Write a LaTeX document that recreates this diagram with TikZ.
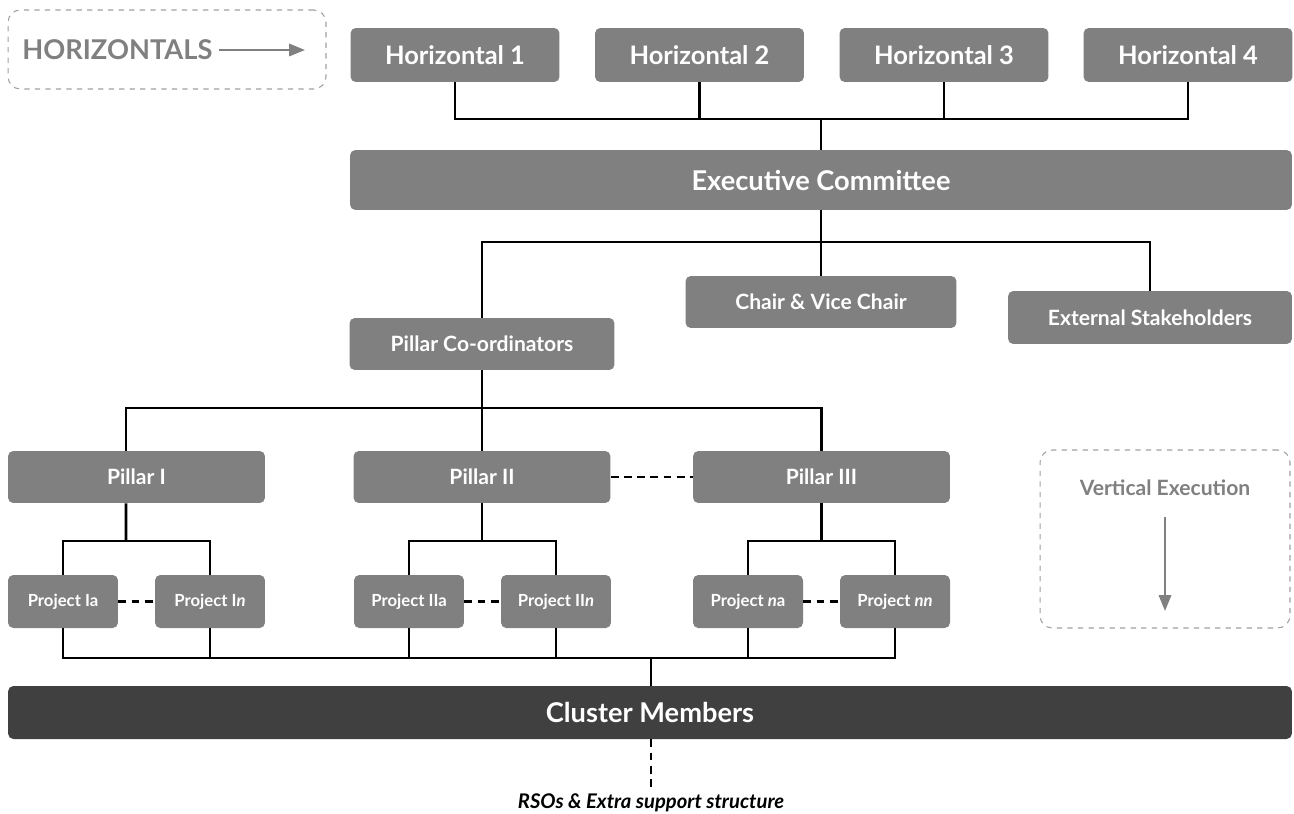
\documentclass[tikz,border=0pt]{standalone}
\usepackage{fontspec}
\setmainfont{Lato}
\usepackage{xcolor}
\usetikzlibrary{arrows.meta, positioning}
\definecolor{boxgray}{HTML}{808080}
\definecolor{darkbox}{HTML}{404040}
\definecolor{hintgray}{HTML}{A0A0A0}

\begin{document}
\begin{tikzpicture}[
  x=0.02cm, y=-0.02cm,
  every node/.style={align=center},
  box/.style={fill=boxgray, rounded corners=3pt, text=white, inner sep=0pt},
  hbox/.style={box, minimum width=4.18cm, minimum height=1.08cm, font=\bfseries\fontsize{14.5}{17}\selectfont},
  mbox/.style={box, minimum height=1.04cm, font=\bfseries\fontsize{12}{14}\selectfont},
  pbox/.style={box, minimum width=2.2cm, minimum height=1.06cm, font=\bfseries\fontsize{9.5}{11}\selectfont},
  hintbox/.style={draw=hintgray, dashed, rounded corners=7pt, line width=0.6pt},
  hint/.style={text=boxgray},
  link/.style={line width=1.45pt, black},
  dlink/.style={link, dash pattern=on 4.5pt off 3pt},
  harrow/.style={line width=1.3pt, boxgray, -{Triangle[length=9pt, width=7pt]}},
  >={Stealth}
]
\useasboundingbox (0,0) rectangle (1294,814);
% Nodes
\node[hintbox, minimum width=6.36cm, minimum height=1.58cm] (hzbox) at (167,49.5) {};
\node[hint, anchor=west, font=\bfseries\fontsize{15.5}{18}\selectfont, inner sep=0pt] (hztext) at (22,50) {HORIZONTALS};
\coordinate (hzend) at (305,50);
\node[hbox] (h1) at (455,55) {Horizontal 1};
\node[hbox] (h2) at (699.5,55) {Horizontal 2};
\node[hbox] (h3) at (944,55) {Horizontal 3};
\node[hbox] (h4) at (1188,55) {Horizontal 4};
\node[box, minimum width=18.84cm, minimum height=1.2cm, font=\bfseries\fontsize{15.5}{18}\selectfont] (exec) at (821,180) {Executive Committee};
\node[mbox, minimum width=5.42cm] (chair) at (821,302) {Chair \& Vice Chair};
\node[mbox, minimum width=5.68cm, minimum height=1.06cm] (ext) at (1150,317.5) {External Stakeholders};
\node[mbox, minimum width=5.3cm] (coord) at (482,344) {Pillar Co-ordinators};
\node[mbox, minimum width=5.14cm] (p1) at (136.5,477) {Pillar I};
\node[mbox, minimum width=5.14cm] (p2) at (482,477) {Pillar II};
\node[mbox, minimum width=5.14cm] (p3) at (821.5,477) {Pillar III};
\node[hintbox, minimum width=5cm, minimum height=3.56cm] (vebox) at (1165,539) {};
\node[hint, font=\bfseries\fontsize{12}{14}\selectfont] (vetext) at (1165,488) {Vertical Execution};
\coordinate (vestart) at (1165,517);
\coordinate (veend) at (1165,611);
\node[pbox] (pr1a) at (63,601.5) {Project Ia};
\node[pbox] (pr1n) at (210,601.5) {Project I\textit{n}};
\node[pbox] (pr2a) at (409,601.5) {Project IIa};
\node[pbox] (pr2n) at (556,601.5) {Project II\textit{n}};
\node[pbox] (prna) at (748,601.5) {Project \textit{n}a};
\node[pbox] (prnn) at (895,601.5) {Project \textit{nn}};
\node[box, fill=darkbox, minimum width=25.68cm, minimum height=1.06cm, font=\bfseries\fontsize{15.5}{18}\selectfont] (cluster) at (650,712.5) {Cluster Members};
\node[font=\bfseries\itshape\fontsize{11.5}{14}\selectfont, inner sep=1pt] (rso) at (651,803) {RSOs \& Extra support structure};
% Bus points
\coordinate (hbus) at (821,119);
\coordinate (ebus) at (821,242);
\coordinate (pbus) at (482,408);
\coordinate (s1) at (126,541);
\coordinate (s2) at (482,541);
\coordinate (s3) at (821.5,541);
\coordinate (cbus) at (651,658);
% Arrows
\draw[harrow] (hztext.east) ++(6,0) -- (hzend);
\draw[harrow] (vestart) -- (veend);
% Links
\draw[link] (h1.south) |- (hbus) -| (h4.south);
\draw[link] (h2.south) -- (h2.south |- hbus);
\draw[link] (h3.south) -- (h3.south |- hbus);
\draw[link] (hbus) -- (exec.north -| hbus);
\draw[link] (coord.north) |- (ebus) -| (ext.north);
\draw[link] (exec.south -| ebus) -- (chair.north -| ebus);
\draw[link] (coord.south) -- (pbus);
\draw[link] ([xshift=-0.21cm]p1.north) |- (pbus) -| (p3.north);
\draw[link] (pbus) -- (p2.north);
\draw[link] ([xshift=-0.21cm]p1.south) -- (s1);
\draw[link] (pr1a.north) |- (s1) -| (pr1n.north);
\draw[link] (p2.south) -- (s2);
\draw[link] (pr2a.north) |- (s2) -| (pr2n.north);
\draw[link] (p3.south) -- (s3);
\draw[link] (prna.north) |- (s3) -| (prnn.north);
\draw[link] (pr1a.south) |- (cbus) -| (prnn.south);
\foreach \p in {pr1n, pr2a, pr2n, prna}
  \draw[link] (\p.south) -- (\p.south |- cbus);
\draw[link] (cbus) -- (cbus |- cluster.north);
\draw[dlink] (pr1a) -- (pr1n);
\draw[dlink] (pr2a) -- (pr2n);
\draw[dlink] (prna) -- (prnn);
\draw[dlink] (p2) -- (p3);
\draw[dlink] (cbus |- cluster.south) -- (rso.north);
\end{tikzpicture}
\end{document}
